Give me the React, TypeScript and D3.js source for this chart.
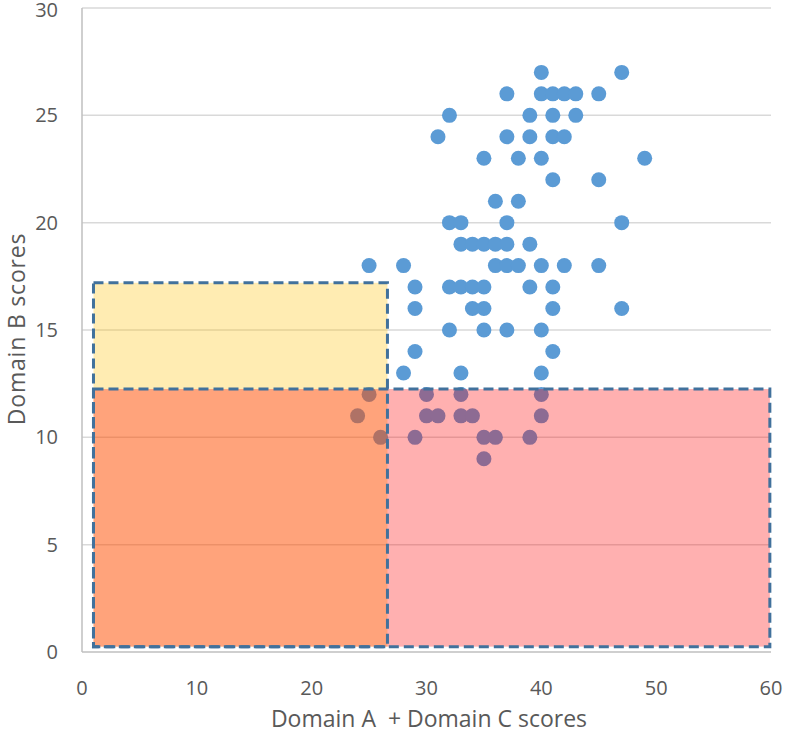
import React from "react";
import * as d3 from "d3";

const xTicks = [0, 10, 20, 30, 40, 50, 60];
const yTicks = [0, 5, 10, 15, 20, 25, 30];

const pointsX = [
  40, 47,
  37, 40, 41, 42, 43, 45,
  32, 39, 41, 43,
  31, 37, 39, 41, 42,
  35, 38, 40, 49,
  41, 45,
  36, 38,
  32, 33, 37, 47,
  33, 34, 35, 36, 37, 39,
  25, 28, 36, 37, 38, 40, 42, 45,
  29, 32, 33, 34, 35, 39, 41,
  29, 34, 35, 41, 47,
  32, 35, 37, 40,
  29, 41,
  28, 33, 40,
  25, 30, 33, 40,
  24, 30, 31, 33, 34, 40,
  26, 29, 35, 36, 39,
  35,
];
const pointsY = [
  27, 27,
  26, 26, 26, 26, 26, 26,
  25, 25, 25, 25,
  24, 24, 24, 24, 24,
  23, 23, 23, 23,
  22, 22,
  21, 21,
  20, 20, 20, 20,
  19, 19, 19, 19, 19, 19,
  18, 18, 18, 18, 18, 18, 18, 18,
  17, 17, 17, 17, 17, 17, 17,
  16, 16, 16, 16, 16,
  15, 15, 15, 15,
  14, 14,
  13, 13, 13,
  12, 12, 12, 12,
  11, 11, 11, 11, 11, 11,
  10, 10, 10, 10, 10,
  9,
];

const zoneNames = ["yellow", "pink"];
const zoneX0 = [1, 1];
const zoneX1 = [26.6, 59.9];
const zoneY0 = [0.25, 0.25];
const zoneY1 = [17.2, 12.25];
const zoneFill = ["rgba(255,192,0,0.3)", "rgba(255,0,0,0.31)"];

export default function App() {
  const W = 787;
  const H = 733;
  const x = d3.scaleLinear().domain([0, 60]).range([82, 771]);
  const y = d3.scaleLinear().domain([0, 30]).range([652, 8]);
  const font = "'Open Sans', 'Noto Sans', sans-serif";
  const textColor = "#595959";

  return (
    <svg
      width={W}
      height={H}
      style={{ position: "absolute", left: 0, top: 0, background: "#fff" }}
    >
      {yTicks.map((t) =>
        t === 0 ? null : (
          <line
            key={"g" + t}
            x1={x(0)}
            x2={x(60)}
            y1={y(t)}
            y2={y(t)}
            stroke="#D9D9D9"
            strokeWidth={1.5}
          />
        )
      )}
      <line x1={x(0)} x2={x(0)} y1={y(0)} y2={y(30)} stroke="#BFBFBF" strokeWidth={1.5} />
      <line x1={x(0)} x2={x(60)} y1={y(0)} y2={y(0)} stroke="#BFBFBF" strokeWidth={1.5} />

      {pointsX.map((px, i) => (
        <circle key={"p" + i} cx={x(px)} cy={y(pointsY[i])} r={7.5} fill="#5B9BD5" />
      ))}

      {zoneNames.map((n, i) => (
        <rect
          key={n}
          x={x(zoneX0[i])}
          y={y(zoneY1[i])}
          width={x(zoneX1[i]) - x(zoneX0[i])}
          height={y(zoneY0[i]) - y(zoneY1[i])}
          fill={zoneFill[i]}
        />
      ))}
      {zoneNames.map((n, i) => (
        <rect
          key={n + "s"}
          x={x(zoneX0[i])}
          y={y(zoneY1[i])}
          width={x(zoneX1[i]) - x(zoneX0[i])}
          height={y(zoneY0[i]) - y(zoneY1[i])}
          fill="none"
          stroke="#41719C"
          strokeWidth={3}
          strokeDasharray="10,5"
        />
      ))}

      {xTicks.map((t) => (
        <text
          key={"x" + t}
          x={x(t)}
          y={695}
          textAnchor="middle"
          fontFamily={font}
          fontSize={20}
          fill={textColor}
        >
          {t}
        </text>
      ))}
      {yTicks.map((t) => (
        <text
          key={"y" + t}
          x={58}
          y={t === 30 ? y(t) + 9 : y(t) + 7}
          textAnchor="end"
          fontFamily={font}
          fontSize={20}
          fill={textColor}
        >
          {t}
        </text>
      ))}

      <text
        x={429}
        y={727}
        textAnchor="middle"
        fontFamily={font}
        fontSize={23}
        fill={textColor}
        style={{ whiteSpace: "pre" }}
      >
        {"Domain A  + Domain C scores"}
      </text>
      <text
        transform={`translate(25, 329) rotate(-90)`}
        textAnchor="middle"
        fontFamily={font}
        fontSize={23}
        letterSpacing={0.8}
        fill={textColor}
      >
        Domain B scores
      </text>
    </svg>
  );
}
